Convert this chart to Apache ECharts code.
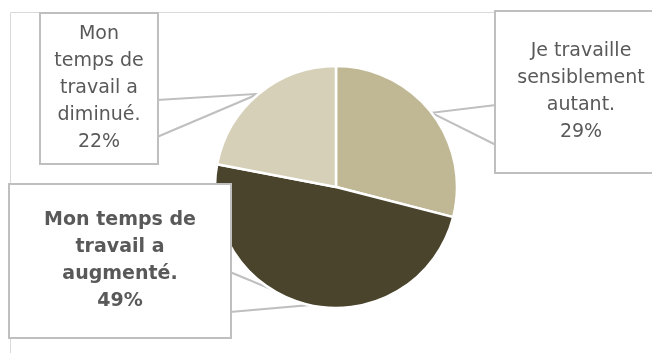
<!DOCTYPE html>
<html>
<head>
<meta charset="utf-8">
<script src="https://cdn.jsdelivr.net/npm/echarts@6/dist/echarts.min.js"></script>
<style>
  html, body { margin: 0; padding: 0; background: #fff; }
  #chart { width: 652px; height: 353px; }
</style>
</head>
<body>
<div id="chart"></div>
<script>
// données
const categories = [
  'Je travaille\nsensiblement\nautant.',
  'Mon temps de\ntravail a\naugmenté.',
  'Mon\ntemps de\ntravail a\ndiminué.',
];
const values = [29, 49, 22];
const colors = ['#c0b895', '#4a442d', '#d6d0b8'];

// boîtes des étiquettes : position, taille, côté de la pointe et ses deux bords
const boxes = [
  { x: 496, y: 12, w: 170, h: 160, side: 'left', a: 105, b: 145 },
  { x: 10, y: 185, w: 220, h: 152, side: 'right', a: 272, b: 312 },
  { x: 41, y: 14, w: 116, h: 149, side: 'right', a: 100, b: 137 },
];
const lineH = 27;

const myChart = echarts.init(document.getElementById('chart'));

const data = categories.map((name, i) => {
  const nLines = name.split('\n').length + 1;
  const vpad = (boxes[i].h - nLines * lineH) / 2;
  return {
    name,
    value: values[i],
    itemStyle: { color: colors[i] },
    label: {
      fontWeight: i === 1 ? 'bold' : 'normal',
      width: boxes[i].w,
      padding: [vpad, 0, vpad, 0],
    },
  };
});

myChart.setOption({
  animation: false,
  graphic: [
    {
      type: 'rect',
      silent: true,
      z: -1,
      shape: { x: 10.5, y: 12.5, width: 700, height: 400 },
      style: { fill: 'none', stroke: '#d9d9d9', lineWidth: 1 },
    },
  ],
  series: [
    {
      type: 'pie',
      center: [336, 187],
      radius: 121,
      startAngle: 90,
      clockwise: true,
      data,
      itemStyle: { borderColor: '#fff', borderWidth: 2.5 },
      label: {
        show: true,
        position: 'outside',
        formatter: '{b}\n{d}%',
        fontFamily: 'DejaVu Sans',
        fontSize: 19,
        lineHeight: lineH,
        color: '#595959',
        align: 'center',
        backgroundColor: '#fff',
        borderColor: '#bfbfbf',
        borderWidth: 2,
      },
      labelLine: {
        show: true,
        length: 10,
        length2: 10,
        lineStyle: { color: '#bfbfbf', width: 2 },
      },
      // place chaque boîte et dessine la pointe vers la part
      labelLayout(params) {
        const bx = boxes[params.dataIndex];
        const tip = params.labelLinePoints ? params.labelLinePoints[0] : null;
        const edgeX = bx.side === 'left' ? bx.x : bx.x + bx.w;
        const res = {
          x: bx.x + bx.w / 2,
          y: bx.y + bx.h / 2,
          align: 'center',
          verticalAlign: 'middle',
        };
        if (tip) {
          res.labelLinePoints = [[edgeX, bx.a], tip, [edgeX, bx.b]];
        }
        return res;
      },
    },
  ],
});
</script>
</body>
</html>
